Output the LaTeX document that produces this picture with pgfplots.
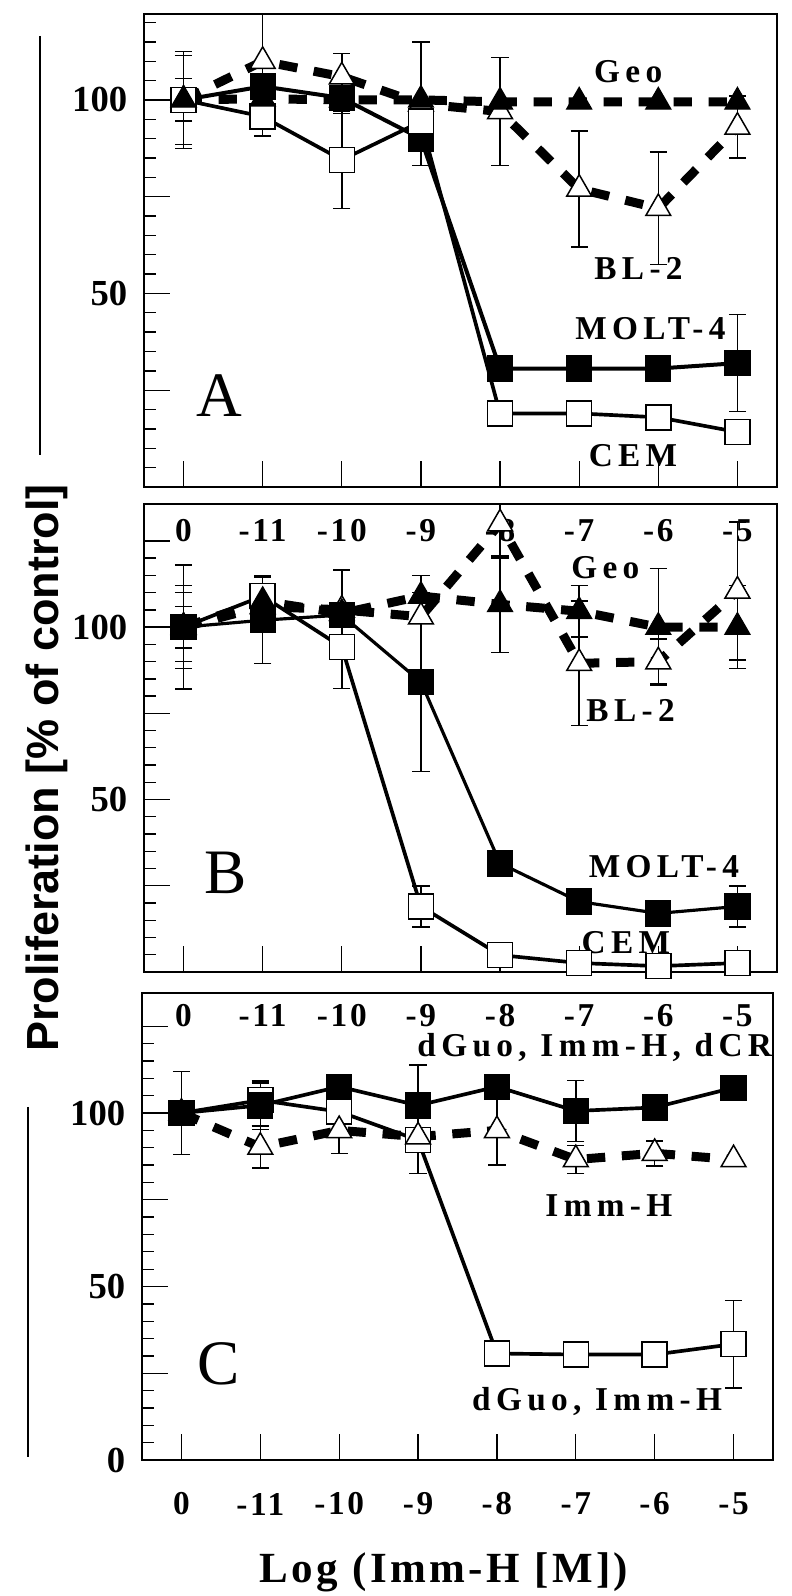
\documentclass[border=0pt]{standalone}
\usepackage{fontspec}
\setmainfont{Liberation Serif}
\newfontfamily\sansbold{Liberation Sans}
\newfontfamily\spaced[LetterSpace=16]{Liberation Serif}
\newfontfamily\tickspaced[LetterSpace=8]{Liberation Serif}
\newfontfamily\titlefont[LetterSpace=8]{Liberation Serif}
\usepackage{pgfplots}
\pgfplotsset{compat=1.18}

\pgfplotsset{
  panel/.style={
    scale only axis, width=189.9pt,
    xmin=-0.5, xmax=7.5, ymin=0,
    xtick={0,...,7},
    xticklabels={0,-11,-10,-9,-8,-7,-6,-5},
    x tick label style={font=\fontsize{10}{12}\tickspaced\bfseries, anchor=center, yshift=-13.2pt},
    ytick={0,25,50,75,100,125},
    minor y tick num=4,
    y tick label style={font=\fontsize{11}{13}\selectfont\bfseries, xshift=-1.5pt},
    /pgf/number format/assume math mode=true,
    tick align=inside, xtick pos=bottom, ytick pos=left,
    major tick length=7.8pt, minor tick length=3.6pt,
    every tick/.style={black, line width=0.4pt},
    axis line style={line width=0.5pt},
  },
  solidsq/.style={black, line width=1.2pt, mark=square*, mark size=3.75pt,
    mark options={solid, fill=black, line width=0.4pt}},
  opensq/.style={black, line width=1.1pt, mark=square*, mark size=3.75pt,
    mark options={solid, fill=white, line width=0.45pt}},
  solidtri/.style={black, line width=2.7pt, dash pattern=on 5.5pt off 5pt,
    mark=triangle*, mark size=4.3pt, mark options={solid, fill=black, line width=0.4pt}},
  opentri/.style={black, line width=2.7pt, dash pattern=on 5.5pt off 5pt,
    mark=triangle*, mark size=4.3pt, mark options={solid, fill=white, line width=0.45pt}},
  eb/.style={draw=none, mark=none, forget plot,
    error bars/y dir=both, error bars/y explicit,
    error bars/error bar style={draw=black, solid, line width=0.45pt},
    error bars/error mark options={rotate=90, mark size=2.6pt, line width=0.45pt, draw=black, solid}},
}
\tikzset{
  lbl/.style={font=\fontsize{10}{12}\spaced\bfseries},
  panellbl/.style={font=\fontsize{19}{21}\selectfont},
}

\begin{document}
\begin{tikzpicture}
\path[use as bounding box] (0,0) rectangle (237.6pt,478.8pt);

% ---------- panel A ----------
\begin{axis}[panel, at={(43.2pt,332.7pt)}, anchor=south west,
  height=141.9pt, ymax=122.2, yticklabels={,,50,,100,}]
\addplot[opentri] coordinates {(0,100)(1,110)(2,106)(3,99)(4,97)(5,77)(6,72)(7,93)};
\addplot[solidsq] coordinates {(0,100)(1,103.5)(2,100.5)(3,90)(4,30.6)(5,30.6)(6,30.6)(7,32)};
\addplot[opensq] coordinates {(0,100)(1,95.7)(2,84.5)(3,94.4)(4,19)(5,19)(6,18)(7,14.2)};
\addplot[solidtri] coordinates {(0,100)(1,100.3)(2,100)(3,100)(4,99.5)(5,99.5)(6,99.5)(7,99.5)};
\addplot[eb] coordinates {
  (0,100) +- (0,5.5) (1,110) +- (0,12.5) (2,106) +- (0,6) (3,99) +- (0,16)
  (4,97) +- (0,14) (5,77) +- (0,15) (6,72) +- (0,14.5) (7,93) +- (0,8)};
\addplot[eb] coordinates {
  (0,100) +- (0,12.5) (2,100.5) +- (0,4) (3,90) +- (0,7) (7,32) +- (0,12.5)};
\addplot[eb] coordinates {
  (0,100) +- (0,11.5) (1,95.7) +- (0,5) (2,84.5) +- (0,12.5)};
\node[lbl] at (axis cs:5.62,107.3) {Geo};
\node[lbl] at (axis cs:5.75,56.5) {BL-2};
\node[lbl] at (axis cs:5.9,41) {MOLT-4};
\node[lbl] at (axis cs:5.68,8.2) {CEM};
\node[panellbl] at (axis cs:0.45,23.7) {A};
\end{axis}

% ---------- panel B ----------
\begin{axis}[panel, at={(43.2pt,187.2pt)}, anchor=south west,
  height=140.4pt, ymax=135.7, yticklabels={,,50,,100,}]
\addplot[opensq] coordinates {(0,100)(1,109)(2,94.2)(3,19)(4,4.9)(5,2.6)(6,1.7)(7,2.6)};
\addplot[opentri] coordinates {(0,100)(1,106)(2,105)(3,103)(4,130)(5,89.5)(6,90)(7,110.5)};
\addplot[solidtri] coordinates {(0,100)(1,107.5)(2,104)(3,109)(4,106.6)(5,104.6)(6,100)(7,100)};
\addplot[solidsq, line width=0.95pt] coordinates {(0,100)(1,102)(2,103.5)(3,84.1)(4,31.5)(5,20.4)(6,17)(7,19)};
\addplot[eb] coordinates {
  (0,100) +- (0,6) (1,109) +- (0,6) (2,94.2) +- (0,12) (3,19) +- (0,6)};
\addplot[eb] coordinates {
  (0,100) +- (0,10) (2,105) +- (0,11.5) (4,130) +- (0,10) (5,89.5) +- (0,18)
  (6,90) +- (0,6.5) (7,110.5) +- (0,20)};
\addplot[eb] coordinates {
  (0,100) +- (0,12) (3,109) +- (0,6) (4,106.6) +- (0,14) (5,104.6) +- (0,7.5)
  (6,100) +- (0,17) (7,100) +- (0,12)};
\addplot[eb] coordinates {
  (0,100) +- (0,18) (1,102) +- (0,12.5) (3,84.1) +- (0,26) (7,19) +- (0,6)};
\node[lbl] at (axis cs:5.33,117.3) {Geo};
\node[lbl] at (axis cs:5.65,75.9) {BL-2};
\node[lbl] at (axis cs:6.07,30.5) {MOLT-4};
\node[lbl] at (axis cs:5.59,8.4) {CEM};
\node[panellbl] at (axis cs:0.53,28.6) {B};
\end{axis}

% ---------- panel C ----------
\begin{axis}[panel, at={(42.6pt,40.8pt)}, anchor=south west,
  width=189.3pt, height=140.1pt, ymax=134.6, yticklabels={0,,50,,100,}]
\addplot[opensq] coordinates {(0,100)(1,103.7)(2,100.4)(3,92.2)(4,30.7)(5,30.4)(6,30.4)(7,33.4)};
\addplot[opentri] coordinates {(0,100)(1,90.2)(2,95)(3,93.2)(4,95)(5,86.6)(6,88.4)(7,86.6)};
\addplot[solidsq, line width=1.1pt] coordinates {(0,100)(1,102.2)(2,107.6)(3,102.2)(4,107.6)(5,100.6)(6,101.6)(7,107.3)};
\addplot[eb] coordinates {
  (1,103.7) +- (0,5) (3,92.2) +- (0,9.6) (7,33.4) +- (0,12.6)};
\addplot[eb] coordinates {
  (1,90.2) +- (0,6) (2,95) +- (0,6.6) (4,95) +- (0,10) (5,86.6) +- (0,4)
  (6,88.4) +- (0,3.6)};
\addplot[eb] coordinates {
  (0,100) +- (0,12) (1,102.2) +- (0,7) (3,102.2) +- (0,11.6) (5,100.6) +- (0,8.8)};
\node[lbl] at (axis cs:5.24,119) {dGuo, Imm-H, dCR};
\node[lbl] at (axis cs:5.42,73.3) {Imm-H};
\node[lbl] at (axis cs:5.27,16.9) {dGuo, Imm-H};
\node[panellbl] at (axis cs:0.47,27.7) {C};
\end{axis}

% ---------- outer labels ----------
\node[anchor=base, font=\fontsize{12.9}{15}\titlefont\bfseries] at (133.2pt,4.2pt) {Log (Imm-H [M])};
\node[anchor=base, rotate=90, font=\fontsize{13.5}{16}\sansbold\bfseries] at (17.4pt,248.4pt) {Proliferation [\% of control]};
\draw[line width=0.8pt] (12pt,468pt) -- (12pt,342.3pt);
\draw[line width=0.8pt] (8.4pt,146.7pt) -- (8.4pt,41.7pt);
\end{tikzpicture}
\end{document}
